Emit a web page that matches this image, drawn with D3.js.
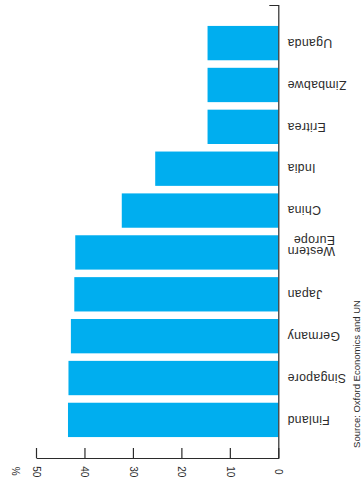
<!DOCTYPE html>
<html>
<head>
<meta charset="utf-8">
<script src="https://cdn.jsdelivr.net/npm/d3@7"></script>
<style>
  html, body { margin: 0; padding: 0; background: #fff; }
  svg { display: block; }
  text { font-family: "Liberation Sans", Arial, sans-serif; fill: #2b2b2b; }
</style>
</head>
<body>
<svg id="chart" width="364" height="484"></svg>
<script>
// Share of population (%), listed from the bottom bar upward
const categories = ["Finland", "Singapore", "Germany", "Japan", "Western Europe",
                    "China", "India", "Eritrea", "Zimbabwe", "Uganda"];
const values = [43.4, 43.3, 42.8, 42.1, 41.9, 32.3, 25.4, 14.6, 14.6, 14.6];
const tickValues = [0, 10, 20, 30, 40, 50];
const unitLabel = "%";
const sourceNote = "Source: Oxford Economics and UN";

const barColor = "#00aeef";
const axisColor = "#2b2b2b";

const svg = d3.select("#chart");

// The whole figure is laid out turned half a turn: bars grow leftward from the
// axis on the right, and every label is printed turned with it.
const x = d3.scaleLinear().domain([0, 50]).range([278.3, 36]);
const y = d3.scaleBand().domain(categories).range([458, 5])
  .paddingInner(0.18).paddingOuter(0.5);

// Bars
svg.append("g")
  .selectAll("rect")
  .data(categories.map((c, i) => ({ c, v: values[i] })))
  .join("rect")
  .attr("x", d => x(d.v))
  .attr("width", d => x(0) - x(d.v))
  .attr("y", d => y(d.c))
  .attr("height", y.bandwidth())
  .attr("fill", barColor);

// Value axis along the bottom, ticks pointing up into the bars
const valueAxis = svg.append("g")
  .attr("transform", `translate(0,${y.range()[0]})`)
  .call(d3.axisBottom(x).tickValues(tickValues).tickSizeInner(-10).tickSizeOuter(0));
valueAxis.select(".domain").attr("stroke", axisColor).attr("stroke-width", 1.2);
valueAxis.selectAll(".tick line").attr("stroke", axisColor).attr("stroke-width", 1.2);
valueAxis.selectAll(".tick text")
  .attr("x", 0).attr("y", 0).attr("dy", "0.35em")
  .attr("text-anchor", "middle")
  .attr("transform", "translate(0,13.7) rotate(90)")
  .style("font-size", "10px")
  .attr("fill", axisColor);
valueAxis.append("text")
  .attr("transform", `translate(${x(50) - 21},13.2) rotate(90)`)
  .attr("text-anchor", "middle")
  .attr("dy", "0.35em")
  .style("font-size", "10px")
  .attr("fill", axisColor)
  .text(unitLabel);

// Category axis line on the right with its end tick at the top
const catAxis = svg.append("g")
  .attr("transform", `translate(${x(0)},0)`)
  .call(d3.axisRight(y).tickSizeInner(0).tickSizeOuter(-9).tickFormat(""));
catAxis.select(".domain").attr("stroke", axisColor).attr("stroke-width", 1.2);
catAxis.selectAll(".tick").remove();

// Category labels, printed upside down
const labelX = x(0) + 9;
const labels = svg.append("g")
  .style("font-size", "12.3px")
  .style("letter-spacing", "0.3px");

categories.forEach(c => {
  const yc = y(c) + y.bandwidth() / 2;
  const words = c.split(" ");
  if (words.length === 1) {
    labels.append("text")
      .attr("transform", `translate(${labelX},${yc}) rotate(180)`)
      .attr("text-anchor", "end")
      .attr("dy", "0.35em")
      .text(c);
  } else {
    // Two-line label: first word on the lower line, the rest above it,
    // both lines flush with each other on the right once turned
    const first = labels.append("text")
      .attr("transform", `translate(${labelX},${yc - 1}) rotate(180)`)
      .attr("text-anchor", "end")
      .attr("dy", "0.35em")
      .text(words[0]);
    const w = first.node().getComputedTextLength();
    labels.append("text")
      .attr("transform", `translate(${labelX + w},${yc - 12}) rotate(180)`)
      .attr("text-anchor", "start")
      .attr("dy", "0.35em")
      .text(words.slice(1).join(" "));
  }
});

// Source note, running up the right edge
svg.append("text")
  .attr("transform", `translate(357,374) rotate(-90)`)
  .attr("text-anchor", "middle")
  .attr("dy", "0.35em")
  .style("font-size", "9.5px")
  .attr("fill", axisColor)
  .text(sourceNote);
</script>
</body>
</html>
